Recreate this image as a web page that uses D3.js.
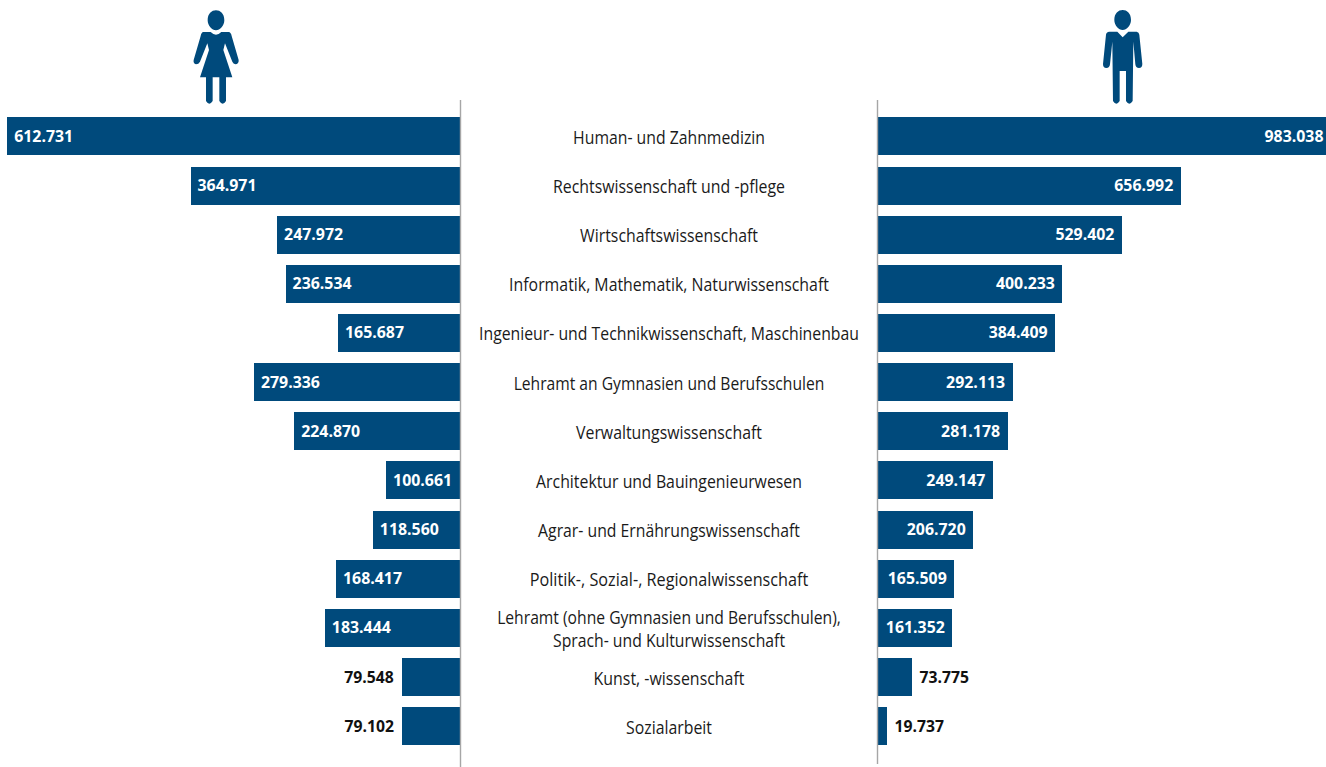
<!DOCTYPE html>
<html><head><meta charset="utf-8">
<script src="https://cdn.jsdelivr.net/npm/d3@7"></script>
<style>html,body{margin:0;padding:0;background:#fff}svg{display:block}</style>
</head><body><svg id="c" width="1326" height="767"></svg>
<script>
const categories=[["Human- und Zahnmedizin"],["Rechtswissenschaft und -pflege"],["Wirtschaftswissenschaft"],["Informatik, Mathematik, Naturwissenschaft"],["Ingenieur- und Technikwissenschaft, Maschinenbau"],["Lehramt an Gymnasien und Berufsschulen"],["Verwaltungswissenschaft"],["Architektur und Bauingenieurwesen"],["Agrar- und Ernährungswissenschaft"],["Politik-, Sozial-, Regionalwissenschaft"],["Lehramt (ohne Gymnasien und Berufsschulen),","Sprach- und Kulturwissenschaft"],["Kunst, -wissenschaft"],["Sozialarbeit"]];
const women=[612731,364971,247972,236534,165687,279336,224870,100661,118560,168417,183444,79548,79102];
const men=[983038,656992,529402,400233,384409,292113,281178,249147,206720,165509,161352,73775,19737];
const blue="#004a7c",axisCol="#a6a6a6";
const svg=d3.select("#c");
const y=d3.scaleBand().domain(d3.range(categories.length)).range([117.4,745.4]).paddingInner(11/49).paddingOuter(0).align(0);
const xL=d3.scaleLinear().domain([0,612731]).range([460.6,7.2]);
const xR=d3.scaleLinear().domain([0,983038]).range([878,1331]);
const fmt=v=>d3.format(",")(v).replace(/,/g,".");
const font="'Open Sans'";
// draws text squeezed to a target width, so the box of the text is its real size
function fitted(str,x,yy,w,anchor,col,size,weight){
  const t=svg.append("text").text(str).attr("fill",col).attr("text-anchor",anchor).attr("font-family",font).attr("font-size",size).attr("font-weight",weight);
  const len=t.node().getComputedTextLength();
  t.attr("transform",`translate(${x},${yy}) scale(${w/len},1)`);
}
const g=svg.append("g");
g.selectAll(".l").data(women).join("rect").attr("x",d=>Math.round(xL(d))).attr("y",(d,i)=>Math.round(y(i))).attr("width",d=>460.5-Math.round(xL(d))).attr("height",38).attr("fill",blue);
g.selectAll(".r").data(men).join("rect").attr("x",xR(0)).attr("y",(d,i)=>Math.round(y(i))).attr("width",d=>Math.round(xR(d))-xR(0)).attr("height",38).attr("fill",blue);
svg.append("line").attr("x1",460.5).attr("x2",460.5).attr("y1",100).attr("y2",767).attr("stroke",axisCol).attr("stroke-width",1.4);
svg.append("line").attr("x1",877.5).attr("x2",877.5).attr("y1",100).attr("y2",764).attr("stroke",axisCol).attr("stroke-width",1.4);
const vt=(d,x,yy,col,anchor)=>fitted(fmt(d),x,yy,d<100000?49.5:59,anchor,col,16.5,700);
women.forEach((d,i)=>{const small=d<100000,cy=y(i)+y.bandwidth()/2+5.4;
  if(small) vt(d,xL(d)-8,cy,"#111","end"); else vt(d,xL(d)+7,cy,"#fff","start");});
men.forEach((d,i)=>{const small=d<100000,cy=y(i)+y.bandwidth()/2+5.4;
  if(small) vt(d,xR(d)+7.5,cy,"#111","start"); else vt(d,xR(d)-7.5,cy,"#fff","end");});
const widths=[[192],[232],[178],[320],[380],[311],[186],[266],[262],[279],[344,232],[151],[86]];
categories.forEach((ls,i)=>{const c=y(i)+y.bandwidth()/2;
  ls.forEach((s,j)=>fitted(s,669,c+7.4-(ls.length-1)*11.75+j*23.5,widths[i][j],"middle","#1a1a1a",19,400));});
// pictograms (drawn in 3x local units)
const head=(cx,cy)=>`M${cx-25},${cy} C${cx-25},${cy-20} ${cx-13},${cy-30} ${cx},${cy-30} C${cx+13},${cy-30} ${cx+25},${cy-20} ${cx+25},${cy} C${cx+25},${cy+16} ${cx+12},${cy+30} ${cx},${cy+30} C${cx-12},${cy+30} ${cx-25},${cy+16} ${cx-25},${cy} Z`;
const woman=head(138,61)+"M100,96 L122,96 Q138,112 154,96 L176,96 Q183,97 185,108 L206,180 Q207,192 196,193 Q190,192 187,185 L165,130 L160,150 L187,232 L168,232 L168,303 Q158,319 148,303 L148,232 L128,232 L128,303 Q118,319 108,303 L108,232 L90,232 L117,150 L112,130 L90,185 Q86,193 78,193 Q69,190 71,180 L92,108 Q94,97 100,96 Z";
const man=head(128,60)+"M88,95 L112,95 L128,112 L145,95 L170,95 Q177,96 178,104 L187,192 Q187,204 177,204 Q167,204 166,193 L160,125 L158,303 Q148,319 138,303 L138,213 L119,213 L119,303 Q109,319 99,303 L97,125 L90,193 Q89,204 79,204 Q69,204 69,192 L78,104 Q79,96 88,95 Z";
svg.append("path").attr("d",woman).attr("transform","translate(170,0) scale(0.3333)").attr("fill",blue);
svg.append("path").attr("d",man).attr("transform","translate(1080,0) scale(0.3333)").attr("fill",blue);
</script></body></html>
